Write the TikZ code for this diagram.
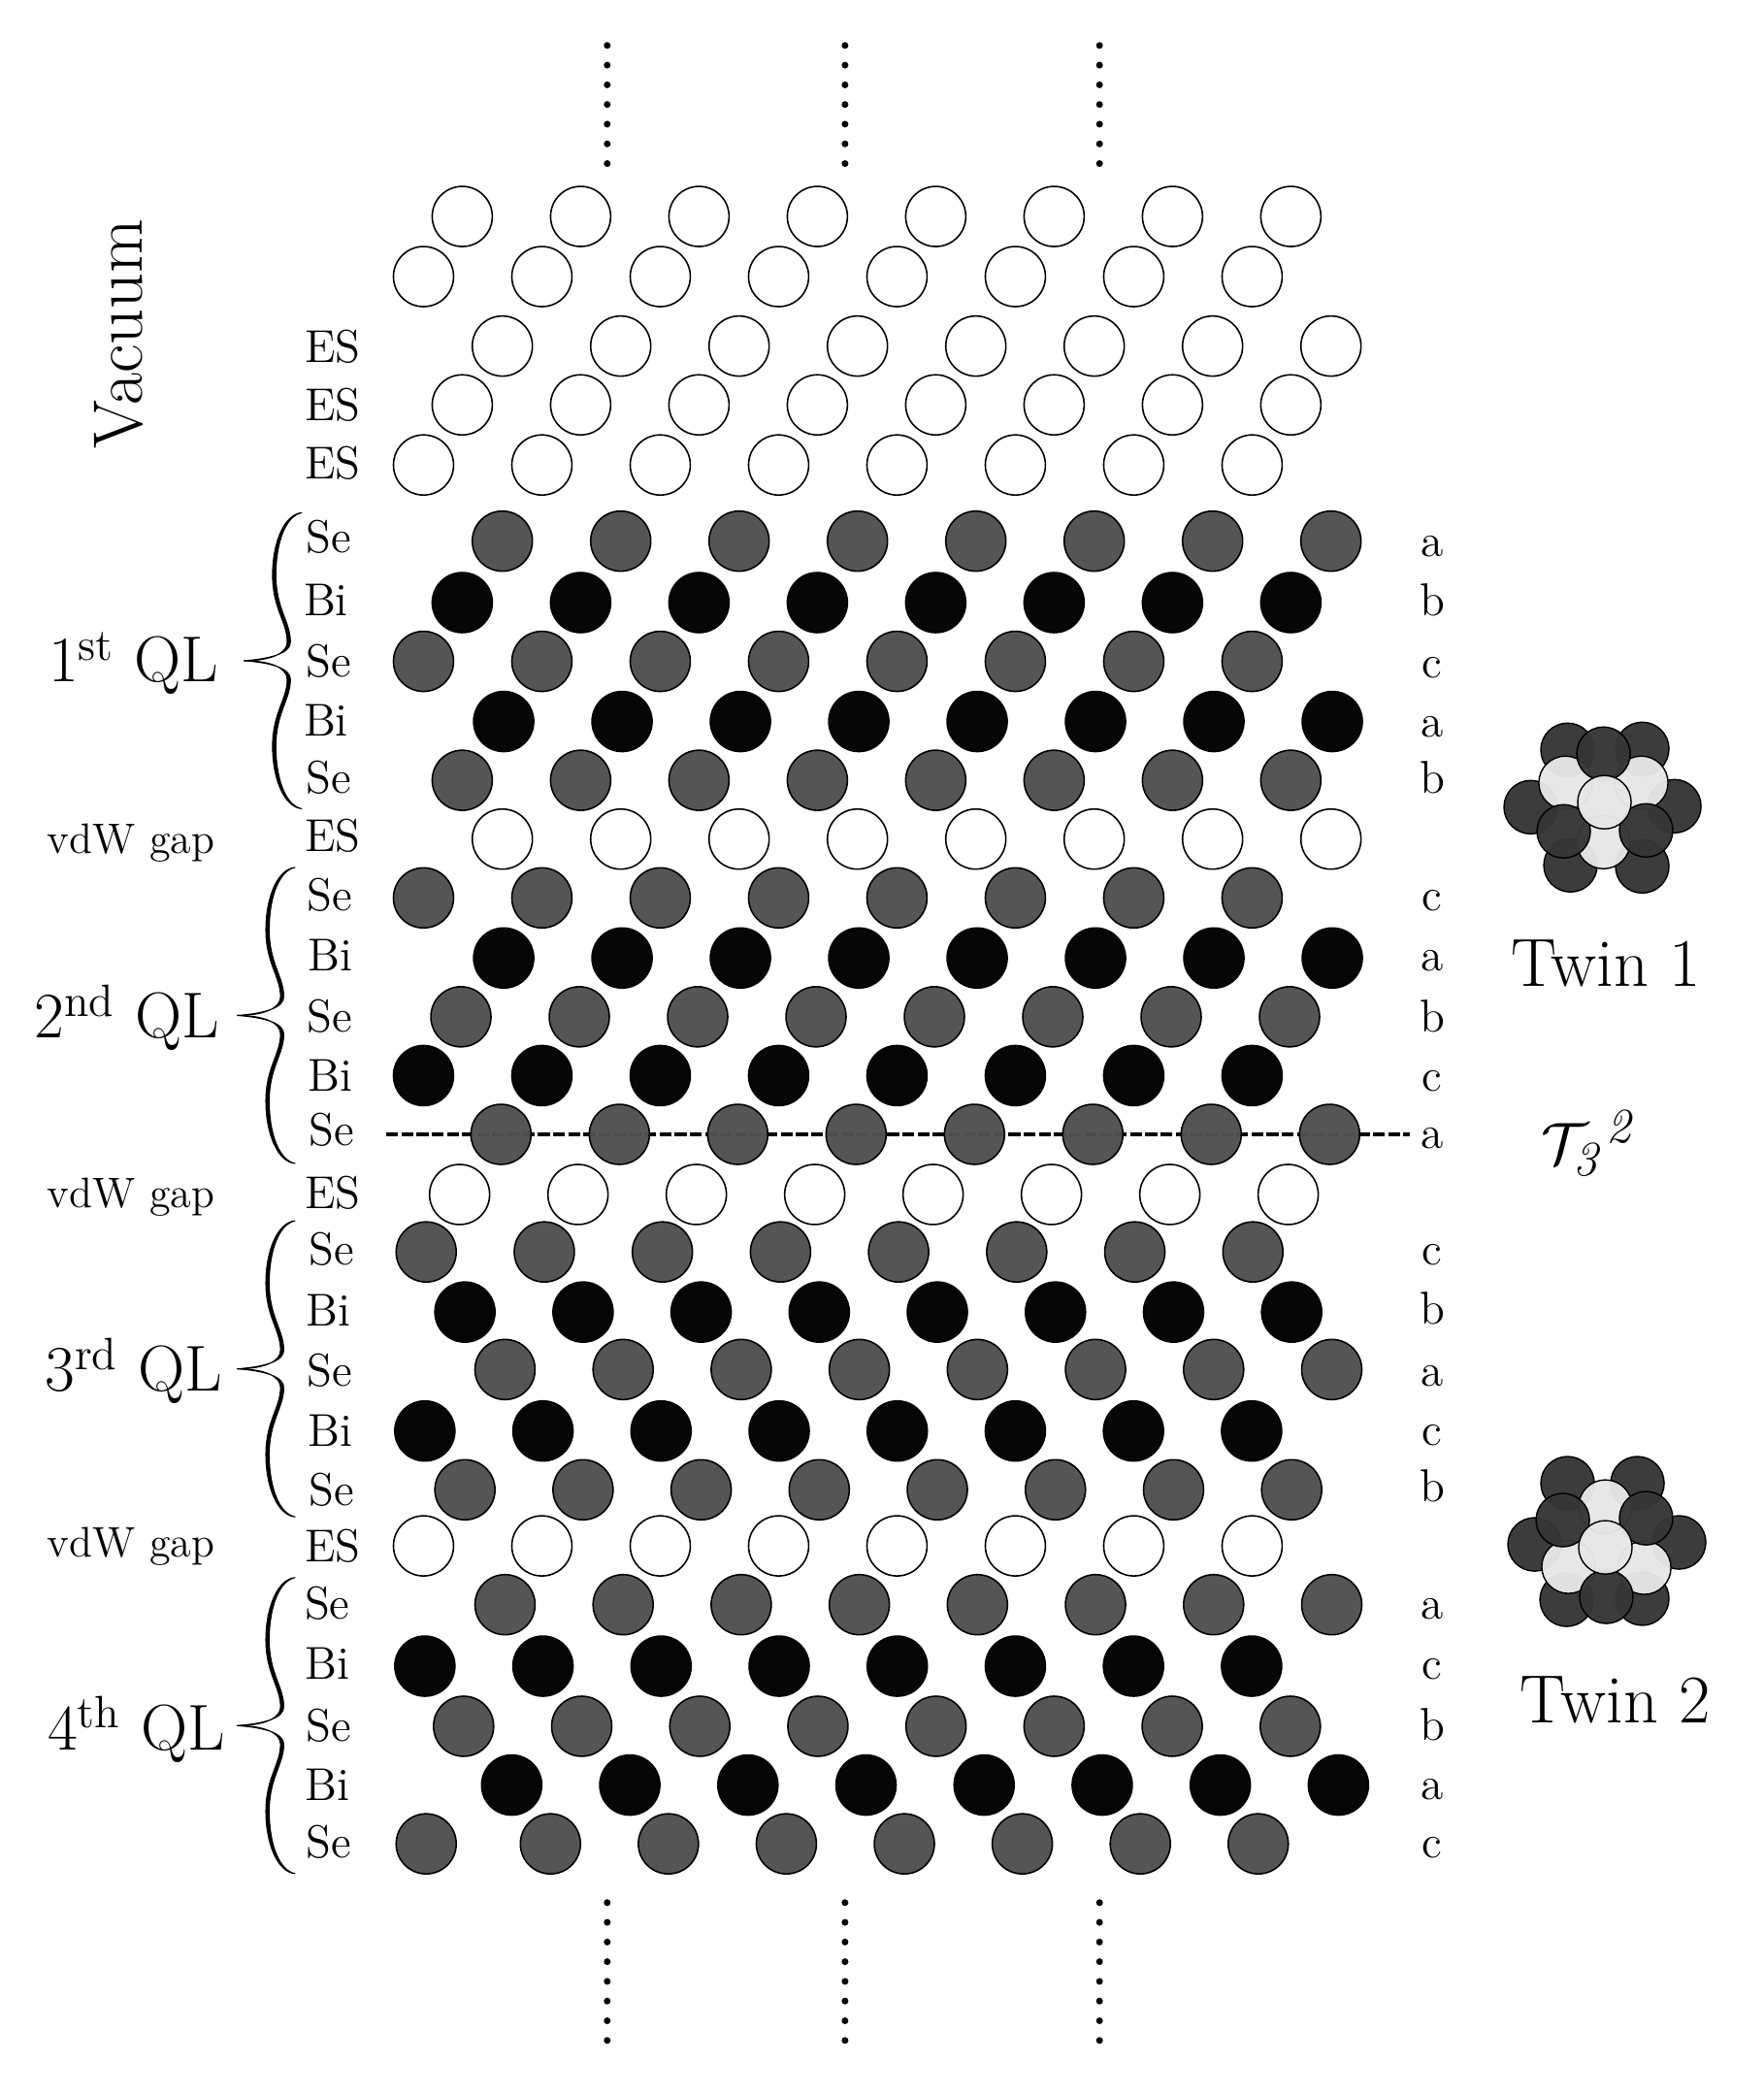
\documentclass[tikz,border=0pt]{standalone}

\tikzset{
    esatom/.style={draw=black, line width=0.45pt, fill=white},
    seatom/.style={draw=black, line width=0.45pt, fill=se, fill opacity=0.97},
    biatom/.style={draw=black, line width=0.45pt, fill=bi},
    darkball/.style={draw=black, line width=0.4pt, fill=twindark, fill opacity=0.97},
    lightball/.style={draw=black, line width=0.4pt, fill=twinlight, fill opacity=0.97},
    elemlabel/.style={anchor=mid, inner sep=0pt, yshift=-2pt, font=\fontsize{13.5}{16}\selectfont},
    gaplabel/.style={anchor=mid, inner sep=0pt, yshift=-2pt, font=\fontsize{12.5}{15}\selectfont},
    qllabel/.style={anchor=mid, inner sep=0pt, yshift=-3.5pt, font=\fontsize{19}{23}\selectfont},
    twinlabel/.style={anchor=mid, inner sep=0pt, yshift=-3.5pt, font=\fontsize{20}{24}\selectfont},
    dotline/.style={line width=2pt, line cap=round, dash pattern=on 0pt off 5.77pt},
    pics/qlbrace/.style={code={
        \foreach \s in {1,-1} {
            \filldraw[yscale=\s, line width=0.3pt]
                (0,-110.8) .. controls (-13,-109.8) and (-22,-89) .. (-22,-64)
                .. controls (-22,-39) and (-11,-29) .. (-11,-14)
                .. controls (-11,-6) and (-22,0) .. (-43.6,0)
                .. controls (-22,-1.5) and (-8.6,-6) .. (-8.6,-14)
                .. controls (-8.6,-29) and (-19.5,-39) .. (-19.5,-64)
                .. controls (-19.5,-89) and (-12,-108.5) .. (0,-110.8);
        }
    }},
}
\definecolor{se}{HTML}{505050}
\definecolor{bi}{HTML}{060606}
\definecolor{twindark}{HTML}{363636}
\definecolor{twinlight}{HTML}{E6E6E6}

\begin{document}
\begin{tikzpicture}[x=0.01377cm, y=-0.01377cm]
    \useasboundingbox (0,0) rectangle (1320,1568);

    % Twin plane
    \draw[line width=1pt, dash pattern=on 3.5pt off 0.95pt] (289,849) -- (1055,849);

    % Atomic layers, upper part
    \foreach \yy/\xs/\kind in {162/346/esatom, 207/317/esatom, 259/376/esatom, 303/346/esatom, 348/317/esatom,
        405/376/seatom, 451/346/biatom, 495/317/seatom, 540/377/biatom, 584/346/seatom, 628/376/esatom,
        672/317/seatom, 717/377/biatom, 761/345/seatom, 805/317/biatom, 849/375/seatom, 894/344/esatom, 1157/317/esatom} {
        \foreach \i in {0,...,7} {
            \draw[\kind] (\xs+\i*88.6,\yy) circle (22.5);
        }
    }
    % Atomic layers, lower part
    \foreach \yy/\xs/\kind in {937/319/seatom, 982/348/biatom, 1025/378/seatom, 1071/318/biatom, 1115/348/seatom,
        1201/378/seatom, 1247/318/biatom, 1292/347/seatom, 1336/383/biatom} {
        \foreach \i in {0,...,7} {
            \draw[\kind] (\xs+\i*88.4,\yy) circle (22.5);
        }
    }
    % Last layer sits a little off
    \draw[seatom] (319,1380) circle (22.5);
    \foreach \i in {0,...,6} {
        \draw[seatom] (412+\i*88.3,1380) circle (22.5);
    }

    % Element labels
    \foreach \yy/\xs/\txt in {261/249/ES, 304/249/ES, 348/249/ES, 403/246/Se, 450/244/Bi, 496/246/Se, 540/244/Bi, 583/246/Se,
        627/249/ES, 671/247/Se, 716/247/Bi, 762/247/Se, 806/247/Bi, 847/248/Se, 894/249/ES, 936/248/Se, 982/246/Bi,
        1027/247/Se, 1072/247/Bi, 1116/248/Se, 1158/249/ES, 1201/245/Se, 1246/245/Bi, 1293/246/Se, 1337/245/Bi, 1380/246/Se} {
        \node[elemlabel] (elem\yy) at (\xs,\yy) {\txt};
    }

    % Stacking labels
    \foreach \yy/\txt in {406/a, 450/b, 497/c, 541/a, 583/b, 671/c, 716/a, 762/b, 806/c, 849/a,
        936/c, 980/b, 1027/a, 1071/c, 1113/b, 1201/a, 1246/c, 1292/b, 1336/a, 1380/c} {
        \node[elemlabel] (stack\yy) at (1072,\yy) {\txt};
    }

    % Gaps
    \node[gaplabel] (gapa) at (98,628) {vdW gap};
    \node[gaplabel] (gapb) at (98,893) {vdW gap};
    \node[gaplabel] (gapc) at (98,1155) {vdW gap};

    % Braces
    \pic at (226,494.5) {qlbrace};
    \pic at (221,760) {qlbrace};
    \pic at (221,1024.5) {qlbrace};
    \pic at (221,1291.5) {qlbrace};

    % Quintuple layers
    \node[qllabel] (qla) at (100,496) {1\textsuperscript{st} QL};
    \node[qllabel] (qlb) at (95,762) {2\textsuperscript{nd} QL};
    \node[qllabel] (qlc) at (100,1027) {3\textsuperscript{rd} QL};
    \node[qllabel] (qld) at (102,1295) {4\textsuperscript{th} QL};
    \node[rotate=90, anchor=mid, inner sep=0pt, font=\fontsize{20.5}{24}\selectfont] (vacuum) at (101,250) {Vacuum};

    % Twin 1
    \foreach \xx/\yy in {1173.3/561.2, 1229.2/560.5, 1145.7/604.1, 1253.2/603.4, 1175.5/647.6, 1229.2/648.4} {
        \draw[darkball] (\xx,\yy) circle (20);
    }
    \foreach \xx/\yy in {1171.8/585.9, 1228.5/585.9, 1200.2/630.2} {
        \draw[lightball] (\xx,\yy) circle (20);
    }
    \foreach \xx/\yy in {1200.2/564.1, 1170.4/622.2, 1232.1/621.5} {
        \draw[darkball] (\xx,\yy) circle (20);
    }
    \draw[lightball] (1200.9,600.4) circle (20);
    \node[twinlabel] (twina) at (1202,724) {Twin 1};

    % Twin 2
    \foreach \xx/\yy in {1173.3/1110.1, 1225.6/1110.1, 1148.6/1155.9, 1256.8/1154.4, 1172.6/1197.3, 1229.2/1196.5} {
        \draw[darkball] (\xx,\yy) circle (20);
    }
    \foreach \xx/\yy in {1201.6/1127.6, 1174/1172.6, 1230.7/1173.3} {
        \draw[lightball] (\xx,\yy) circle (20);
    }
    \foreach \xx/\yy in {1169.7/1137.7, 1232.1/1136.3, 1202.3/1195.1} {
        \draw[darkball] (\xx,\yy) circle (20);
    }
    \draw[lightball] (1201.6,1158.1) circle (20);
    \node[twinlabel] (twinb) at (1209,1275) {Twin 2};

    % Twin operator
    \node[qllabel] (twinop) at (1190,857) {$\mathcal{T}_{\mathit{3}}{}^{\mathit{2}}$};

    % Dots
    \foreach \xx in {454.5,632.5,823} {
        \draw[dotline] (\xx,34) -- (\xx,123);
        \draw[dotline] (\xx,1424) -- (\xx,1528);
    }
\end{tikzpicture}
\end{document}
